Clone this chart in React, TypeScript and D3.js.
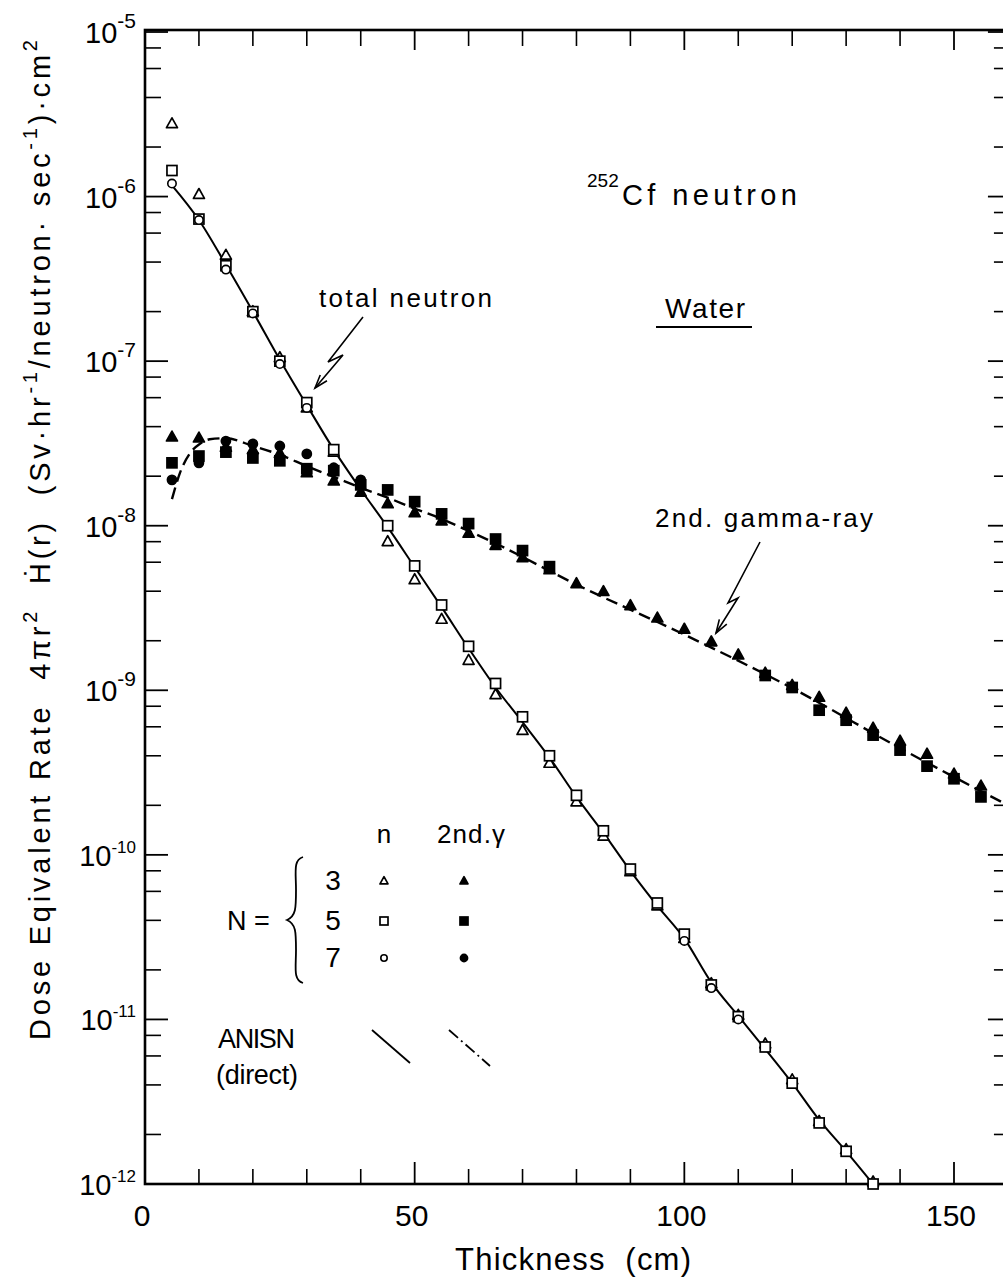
import React from "react";
import * as d3 from "d3";

// Shield thickness (cm) at which the dose rates were computed
const neutronX = [5, 10, 15, 20, 25, 30, 35, 45, 50, 55, 60, 65, 70, 75, 80, 85, 90, 95, 100, 105, 110, 115, 120, 125, 130, 135];
// Total neutron dose equivalent rate, S_N order N = 3 (open triangles)
const neutronN3 = [2.77e-6, 1.03e-6, 4.4e-7, 2.0e-7, 1.05e-7, 5.2e-8, 2.8e-8, 8.0e-9, 4.7e-9, 2.7e-9, 1.52e-9, 9.4e-10, 5.7e-10, 3.6e-10, 2.1e-10, 1.3e-10, 7.9e-11, 4.9e-11, 3.1e-11, 1.65e-11, 1.06e-11, 7.1e-12, 4.3e-12, 2.4e-12, 1.62e-12, 1.03e-12];
// N = 5 (open squares)
const neutronN5 = [1.44e-6, 7.3e-7, 3.8e-7, 2.0e-7, 1.0e-7, 5.6e-8, 2.9e-8, 1.0e-8, 5.7e-9, 3.3e-9, 1.85e-9, 1.1e-9, 6.9e-10, 4.0e-10, 2.3e-10, 1.4e-10, 8.2e-11, 5.1e-11, 3.3e-11, 1.62e-11, 1.04e-11, 6.8e-12, 4.1e-12, 2.35e-12, 1.58e-12, 1.0e-12];
// N = 7 (open circles), only where they stand apart from the others
const neutronN7X = [5, 10, 15, 20, 25, 30, 100, 105, 110];
const neutronN7 = [1.2e-6, 7.2e-7, 3.6e-7, 1.95e-7, 9.6e-8, 5.2e-8, 3.0e-11, 1.55e-11, 1.0e-11];

// Secondary gamma-ray dose equivalent rate
const gammaX = [5, 10, 15, 20, 25, 30, 35, 40, 45, 50, 55, 60, 65, 70, 75, 80, 85, 90, 95, 100, 105, 110, 115, 120, 125, 130, 135, 140, 145, 150, 155];
const gammaN3 = [3.46e-8, 3.41e-8, 3.0e-8, 2.9e-8, 2.75e-8, 2.1e-8, 1.87e-8, 1.6e-8, 1.36e-8, 1.2e-8, 1.07e-8, 9.0e-9, 7.6e-9, 6.4e-9, 5.4e-9, 4.45e-9, 3.98e-9, 3.27e-9, 2.75e-9, 2.35e-9, 1.97e-9, 1.64e-9, 1.27e-9, 1.07e-9, 9.07e-10, 7.26e-10, 5.89e-10, 4.91e-10, 4.09e-10, 3.1e-10, 2.62e-10];
const gammaN5 = [2.41e-8, 2.65e-8, 2.8e-8, 2.58e-8, 2.48e-8, 2.22e-8, 2.16e-8, 1.77e-8, 1.65e-8, 1.4e-8, 1.18e-8, 1.03e-8, 8.3e-9, 7.06e-9, 5.64e-9, null, null, null, null, null, null, null, 1.23e-9, 1.04e-9, 7.57e-10, 6.58e-10, 5.34e-10, 4.33e-10, 3.46e-10, 2.9e-10, 2.25e-10];
const gammaN7X = [5, 10, 15, 20, 25, 30, 35, 40];
const gammaN7 = [1.9e-8, 2.41e-8, 3.27e-8, 3.14e-8, 3.05e-8, 2.73e-8, 2.25e-8, 1.9e-8];

// ANISN direct calculation curves
const neutronLineX = [5, 10, 15, 20, 25, 30, 35, 40, 45, 50, 55, 60, 65, 70, 75, 80, 85, 90, 95, 100, 105, 110, 115, 120, 125, 130, 135];
const neutronLine = [1.17e-6, 7.2e-7, 3.85e-7, 2.0e-7, 1.02e-7, 5.4e-8, 2.9e-8, 1.66e-8, 9.8e-9, 5.6e-9, 3.2e-9, 1.8e-9, 1.04e-9, 6.4e-10, 3.9e-10, 2.25e-10, 1.36e-10, 8.0e-11, 4.9e-11, 3.1e-11, 1.68e-11, 1.05e-11, 6.6e-12, 4.1e-12, 2.45e-12, 1.58e-12, 1.0e-12];
const gammaLineX = [5, 6.5, 8.4, 10.2, 12, 15, 20, 25, 30, 35, 40, 45, 50, 55, 60, 65, 80, 100, 120, 140, 160];
const gammaLine = [1.45e-8, 2.1e-8, 2.77e-8, 3.15e-8, 3.35e-8, 3.4e-8, 3.05e-8, 2.7e-8, 2.3e-8, 1.98e-8, 1.7e-8, 1.48e-8, 1.27e-8, 1.1e-8, 9.3e-9, 7.8e-9, 4.39e-9, 2.18e-9, 1.03e-9, 4.45e-10, 2.0e-10];

// Axis ticks
const xMajorTicks = [0, 50, 100, 150];
const xMinorTicks = [10, 20, 30, 40, 60, 70, 80, 90, 110, 120, 130, 140];
const yDecades = [-5, -6, -7, -8, -9, -10, -11, -12];
const yMinorMantissas = [2, 4, 6, 8];

const W = 1003;
const H = 1280;
const LEFT = 145;
const TOP = 32;
const BOTTOM = 1184;
const FONT = "'Liberation Sans Narrow','Arial Narrow','Liberation Sans',Arial,sans-serif";

const x = d3.scaleLinear().domain([0, 160]).range([LEFT, LEFT + 160 * (809 / 150)]);
const y = d3.scaleLog().domain([1e-12, 1e-5]).range([BOTTOM, TOP]);
const RIGHT = x(160);

const lineGen = d3
  .line<[number, number]>()
  .x((d) => x(d[0]))
  .y((d) => y(d[1]))
  .curve(d3.curveMonotoneX);

function Triangle({ cx, cy, s, filled }: { cx: number; cy: number; s: number; filled?: boolean }) {
  const h = s * 0.9;
  const p = `M${cx},${cy - h * 0.6} L${cx + s / 2},${cy + h * 0.4} L${cx - s / 2},${cy + h * 0.4} Z`;
  return <path d={p} fill={filled ? "#000" : "#fff"} stroke="#000" strokeWidth={1.7} strokeLinejoin="round" />;
}
function Square({ cx, cy, s, filled }: { cx: number; cy: number; s: number; filled?: boolean }) {
  return <rect x={cx - s / 2} y={cy - s / 2} width={s} height={s} fill={filled ? "#000" : "#fff"} stroke="#000" strokeWidth={1.7} />;
}
function Circle({ cx, cy, r, filled }: { cx: number; cy: number; r: number; filled?: boolean }) {
  return <circle cx={cx} cy={cy} r={r} fill={filled ? "#000" : "#fff"} stroke="#000" strokeWidth={1.6} />;
}

function Bolt({ pts }: { pts: [number, number][] }) {
  const n = pts.length;
  const [tx, ty] = pts[n - 1];
  const [px, py] = pts[n - 2];
  const ang = Math.atan2(ty - py, tx - px);
  const L = 14;
  const a1 = ang + Math.PI - 0.32;
  const a2 = ang + Math.PI + 0.32;
  const head = `M${tx + L * Math.cos(a1)},${ty + L * Math.sin(a1)} L${tx},${ty} L${tx + L * Math.cos(a2)},${ty + L * Math.sin(a2)}`;
  return (
    <g fill="none" stroke="#000" strokeWidth={1.6}>
      <polyline points={pts.map((p) => p.join(",")).join(" ")} />
      <path d={head} />
    </g>
  );
}

const pre = { whiteSpace: "pre" as const };

export default function App() {
  const neutronPath = lineGen(neutronLineX.map((v, i) => [v, neutronLine[i]]));
  const gammaPath = lineGen(gammaLineX.map((v, i) => [v, gammaLine[i]]));

  return (
    <svg width={W} height={H} style={{ position: "absolute", left: 0, top: 0, background: "#fff" }} fontFamily={FONT}>
      <rect x={0} y={0} width={W} height={H} fill="#fff" />
      <defs>
        <clipPath id="plot">
          <rect x={LEFT} y={TOP - 6} width={RIGHT - LEFT} height={BOTTOM - TOP + 12} />
        </clipPath>
      </defs>

      {/* frame */}
      <rect x={LEFT} y={TOP - 2} width={RIGHT - LEFT} height={BOTTOM - TOP + 2} fill="none" stroke="#000" strokeWidth={2.6} />

      {/* x ticks, bottom and top */}
      {xMajorTicks.map((t) => (
        <g key={"xm" + t}>
          <line x1={x(t)} x2={x(t)} y1={BOTTOM} y2={BOTTOM - 22} stroke="#000" strokeWidth={1.8} />
          <line x1={x(t)} x2={x(t)} y1={TOP - 2} y2={TOP + 18} stroke="#000" strokeWidth={1.8} />
          <text x={x(t) - 3} y={1226} fontSize={30} textAnchor="middle">{t}</text>
        </g>
      ))}
      {xMinorTicks.map((t) => (
        <g key={"xn" + t}>
          <line x1={x(t)} x2={x(t)} y1={BOTTOM} y2={BOTTOM - 15} stroke="#000" strokeWidth={1.6} />
          <line x1={x(t)} x2={x(t)} y1={TOP - 2} y2={TOP + 14} stroke="#000" strokeWidth={1.6} />
        </g>
      ))}

      {/* y ticks, left and right */}
      {yDecades.map((e) => {
        const yy = y(Math.pow(10, e));
        const two = Math.abs(e) >= 10;
        return (
          <g key={"yd" + e}>
            <line x1={LEFT} x2={LEFT + 23} y1={yy} y2={yy} stroke="#000" strokeWidth={1.8} />
            <line x1={RIGHT - 20} x2={RIGHT} y1={yy} y2={yy} stroke="#000" strokeWidth={1.8} />
            <text x={136} y={yy + 11} fontSize={29} textAnchor="end">
              10
              <tspan dy={two ? -13 : -15} fontSize={two ? 17 : 21}>{"-" + Math.abs(e)}</tspan>
            </text>
          </g>
        );
      })}
      {yDecades.slice(1).map((e) =>
        yMinorMantissas.map((m) => {
          const yy = y(m * Math.pow(10, e));
          return (
            <g key={"ym" + e + "_" + m}>
              <line x1={LEFT} x2={LEFT + 16} y1={yy} y2={yy} stroke="#000" strokeWidth={1.6} />
              <line x1={RIGHT - 14} x2={RIGHT} y1={yy} y2={yy} stroke="#000" strokeWidth={1.6} />
            </g>
          );
        })
      )}

      {/* axis titles */}
      <text x={573} y={1270} fontSize={31} textAnchor="middle" textLength={236} style={pre}>
        {"Thickness  (cm)"}
      </text>
      <text transform="translate(50,540) rotate(-90)" fontSize={29} textAnchor="middle" textLength={1000} style={pre}>
        {"Dose Eqivalent Rate  4πr"}
        <tspan dy={-13} fontSize={20}>2</tspan>
        <tspan dy={13}>{"  Ḣ(r)  (Sv·hr"}</tspan>
        <tspan dy={-13} fontSize={20}>-1</tspan>
        <tspan dy={13}>{"/neutron· sec"}</tspan>
        <tspan dy={-13} fontSize={20}>-1</tspan>
        <tspan dy={13}>{")·cm"}</tspan>
        <tspan dy={-13} fontSize={20}>2</tspan>
      </text>

      {/* curves */}
      <g clipPath="url(#plot)">
        <path d={neutronPath ?? ""} fill="none" stroke="#000" strokeWidth={2} />
        <path d={gammaPath ?? ""} fill="none" stroke="#000" strokeWidth={2.4} strokeDasharray="12,6" />
      </g>

      {/* neutron markers */}
      <g clipPath="url(#plot)">
        {neutronX.map((v, i) => (
          <Triangle key={"nt" + i} cx={x(v)} cy={y(neutronN3[i])} s={11} />
        ))}
        {neutronX.map((v, i) => (
          <Square key={"ns" + i} cx={x(v)} cy={y(neutronN5[i])} s={10} />
        ))}
        {neutronN7X.map((v, i) => (
          <Circle key={"nc" + i} cx={x(v)} cy={y(neutronN7[i])} r={4.2} />
        ))}
        {/* gamma markers */}
        {gammaX.map((v, i) => (
          <Triangle key={"gt" + i} cx={x(v)} cy={y(gammaN3[i])} s={11} filled />
        ))}
        {gammaX.map((v, i) =>
          gammaN5[i] == null ? null : <Square key={"gs" + i} cx={x(v)} cy={y(gammaN5[i] as number)} s={10} filled />
        )}
        {gammaN7X.map((v, i) => (
          <Circle key={"gc" + i} cx={x(v)} cy={y(gammaN7[i])} r={4.6} filled />
        ))}
      </g>

      {/* annotations */}
      <text x={587} y={187} fontSize={19}>252</text>
      <text x={622} y={205} fontSize={29} textLength={175}>Cf neutron</text>
      <text x={665} y={318} fontSize={28} textLength={80}>Water</text>
      <line x1={656} x2={752} y1={327} y2={327} stroke="#000" strokeWidth={2} />
      <text x={319} y={307} fontSize={26} textLength={173}>total neutron</text>
      <Bolt pts={[[363, 317], [328, 362], [343, 355], [315, 388]]} />
      <text x={655} y={527} fontSize={26} textLength={218}>2nd. gamma-ray</text>
      <Bolt pts={[[760, 542], [728, 603], [738, 598], [716, 633]]} />

      {/* legend */}
      <text x={384} y={843} fontSize={26} textAnchor="middle">n</text>
      <text x={437} y={843} fontSize={26} textLength={68}>2nd.γ</text>
      <text x={227} y={930} fontSize={27}>N =</text>
      <path d="M303,857 C293,860 296,872 296,890 C296,908 296,916 287,920 C296,924 296,932 296,950 C296,968 293,980 303,983" fill="none" stroke="#000" strokeWidth={1.8} />
      <text x={333} y={890} fontSize={28} textAnchor="middle">3</text>
      <text x={333} y={930} fontSize={28} textAnchor="middle">5</text>
      <text x={333} y={967} fontSize={28} textAnchor="middle">7</text>
      <Triangle cx={384} cy={881} s={8} />
      <Square cx={384} cy={921} s={8} />
      <Circle cx={384} cy={958} r={3.2} />
      <Triangle cx={464} cy={881} s={8} filled />
      <Square cx={464} cy={921} s={8} filled />
      <Circle cx={464} cy={958} r={3.6} filled />
      <text x={218} y={1048} fontSize={27} textLength={77}>ANISN</text>
      <text x={216} y={1084} fontSize={27} textLength={82}>(direct)</text>
      <line x1={372} y1={1030} x2={410} y2={1063} stroke="#000" strokeWidth={1.8} />
      <line x1={449} y1={1030} x2={490} y2={1066} stroke="#000" strokeWidth={1.8} strokeDasharray="12,4,2,4" />
    </svg>
  );
}
